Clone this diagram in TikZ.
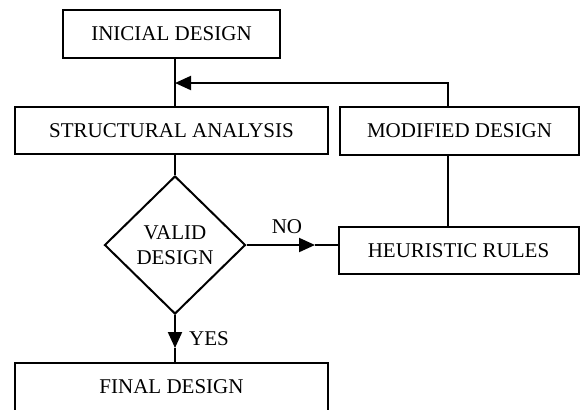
\documentclass[tikz,border=0pt]{standalone}
\usepackage{fontspec}
\setmainfont{Liberation Serif}
\usetikzlibrary{shapes.geometric,arrows.meta}

\newlength{\du}
\setlength{\du}{0.5pt}

\tikzset{
  diatext/.style={font=\fontsize{10.5}{12.5}\selectfont},
  diabox/.style={diatext, draw, rectangle, inner sep=0pt, line width=2\du},
  diadecision/.style={diatext, draw, diamond, inner sep=0pt, align=center,
    minimum width=141\du, minimum height=138\du, line width=2\du},
  dialine/.style={line width=2\du},
  diaarrow/.style={dialine, -{Triangle[length=8pt,width=7pt]}}
}

\begin{document}
\begin{tikzpicture}
\pgftransformxscale{1.000000}
\pgftransformyscale{-1.000000}
\useasboundingbox (0\du,0\du) rectangle (584\du,409\du);
% setfont left to latex
\node[diabox, minimum width=217\du, minimum height=48\du] (initial) at (171.5\du,34\du){INICIAL DESIGN};
\node[diabox, minimum width=313\du, minimum height=47\du] (structural) at (171.5\du,130.5\du){STRUCTURAL ANALYSIS};
\node[diabox, minimum width=239\du, minimum height=48\du] (modified) at (459.5\du,131\du){MODIFIED DESIGN};
\node[diadecision] (valid) at (175\du,245\du){VALID\\DESIGN};
\node[diabox, minimum width=240\du, minimum height=47\du] (heuristic) at (458.5\du,250.5\du){HEURISTIC RULES};
\node[diabox, minimum width=313\du, minimum height=48\du] (final) at (171.5\du,387\du){FINAL DESIGN};
% setfont left to latex
\node[diatext] (nolabel) at (287\du,227\du){NO};
\node[diatext] (yeslabel) at (209\du,339\du){YES};
\coordinate (loopturn) at (448\du,83\du);
\coordinate (notip) at (315\du,245\du);
\coordinate (yestip) at (175\du,348\du);
\draw[dialine] (initial.south -| valid.north)--(structural.north -| valid.north);
\draw[diaarrow] (modified.north -| loopturn)--(loopturn)--(loopturn -| valid.north);
\draw[dialine] (structural.south -| valid.north)--(valid.north);
\draw[diaarrow] (valid.east)--(notip);
\draw[dialine] (notip)--(notip -| heuristic.west);
\draw[dialine] (modified.south -| loopturn)--(heuristic.north -| loopturn);
\draw[diaarrow] (valid.south)--(yestip);
\draw[dialine] (yestip)--(final.north -| yestip);
\end{tikzpicture}
\end{document}
